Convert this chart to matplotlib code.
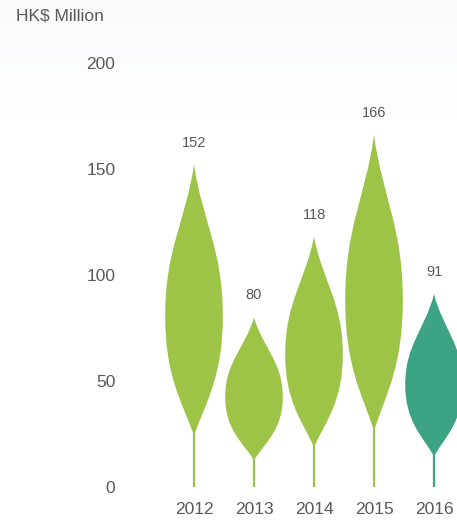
import numpy as np
import matplotlib.pyplot as plt
from matplotlib.path import Path
from matplotlib.patches import PathPatch

plt.rcParams['font.family'] = ['Liberation Sans', 'DejaVu Sans']

# data
years = ["2012", "2013", "2014", "2015", "2016"]
values = [152, 80, 118, 166, 91]
colors = ["#9dc446", "#9dc446", "#9dc446", "#9dc446", "#3ca384"]

txt = "#595959"

fig = plt.figure(figsize=(4.57, 5.22), dpi=100)

# faint grey wash at the top of the picture
bg = fig.add_axes([0, 0, 1, 1], zorder=-1)
grad = np.linspace(0, 1, 200).reshape(-1, 1)
grad = np.clip((grad - 0.78) / 0.22, 0, 1) ** 1.5
rgb = np.ones((200, 1, 3)) - grad[..., None] * np.array([0.03, 0.024, 0.016])
bg.imshow(rgb, aspect="auto", extent=[0, 1, 0, 1], origin="lower")
bg.axis("off")

ax = fig.add_axes([125 / 457, 35 / 522, 332 / 457, 424 / 522])
ax.patch.set_alpha(0)


def flame(i, v, w=0.48):
    s = 0.16 * v   # top of the stem
    m = 0.53 * v   # widest point
    lo = [(i - 0.45 * w, s + 0.3 * (m - s)), (i - w, m - 0.5 * (m - s)), (i - w, m)]
    hi = [(i - w, m + 0.45 * (v - m)), (i - 0.3 * w, v - 0.38 * (v - m)), (i, v)]
    verts = [(i, s)] + lo + hi
    verts += [(2 * i - x, y) for x, y in hi[:2][::-1]] + [(i + w, m)]
    verts += [(2 * i - x, y) for x, y in lo[:2][::-1]] + [(i, s)]
    codes = [Path.MOVETO] + [Path.CURVE4] * 12
    return Path(verts, codes), s


for i, (v, c) in enumerate(zip(values, colors)):
    p, s = flame(i, v)
    ax.add_patch(PathPatch(p, facecolor=c, edgecolor="none"))
    ax.plot([i, i], [0, s + 1], color=c, lw=1.6, solid_capstyle="butt")
    ax.annotate(str(v), (i, v), xytext=(0, 16), textcoords="offset points",
                ha="center", va="center", fontsize=10.5, color=txt)

ax.set_xlim(-1.15, 4.383)
ax.set_ylim(0, 200)
ax.set_yticks([0, 50, 100, 150, 200])
ax.set_xticks(range(len(years)))
ax.set_xticklabels(years)
ax.tick_params(length=0, labelsize=12.5, colors=txt)
ax.tick_params(axis="x", pad=11)
ax.tick_params(axis="y", pad=7)
for sp in ax.spines.values():
    sp.set_visible(False)

fig.text(16 / 457, 1 - 16 / 522, "HK$ Million", ha="left", va="center",
         fontsize=12.5, color=txt)

fig.savefig("out.png", dpi=100)
